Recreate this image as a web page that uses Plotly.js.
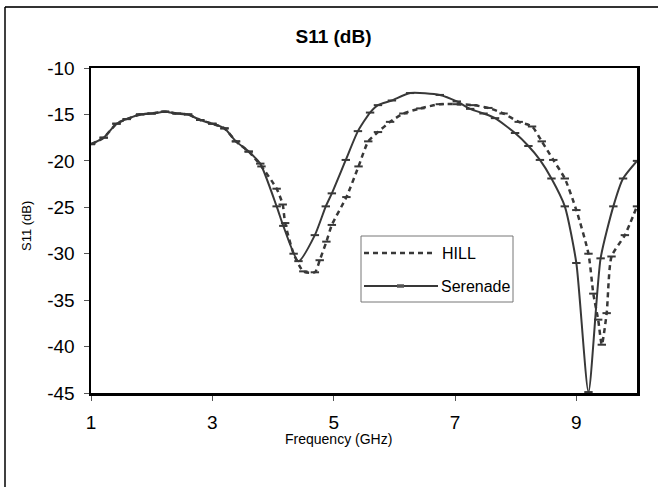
<!DOCTYPE html>
<html>
<head>
<meta charset="utf-8">
<script src="https://cdn.plot.ly/plotly-3.0.1.min.js"></script>
<style>html,body{margin:0;padding:0;background:#fff;}#chart{width:658px;height:487px;}</style>
</head>
<body>
<div id="chart"></div>
<script>
// ---- data ----
const serenadeFreq = [1.0,1.21,1.42,1.59,1.81,2.0,2.22,2.41,2.6,2.8,3.0,3.2,3.39,3.6,3.79,4.06,4.17,4.42,4.69,4.87,4.97,5.2,5.4,5.6,5.73,5.96,6.26,6.75,7.03,7.25,7.47,7.66,7.99,8.21,8.4,8.59,8.81,9.0,9.2,9.4,9.61,9.77,10.0];
const serenadeS11 = [-18.2,-17.5,-16.0,-15.5,-15.0,-14.9,-14.7,-14.9,-15.0,-15.6,-16.0,-16.5,-17.9,-19.0,-20.3,-24.9,-27.0,-30.8,-28.0,-24.9,-23.5,-19.9,-16.8,-14.8,-14.0,-13.5,-12.7,-12.9,-13.6,-14.4,-14.9,-15.4,-17.0,-18.4,-19.9,-21.9,-24.9,-31.0,-44.9,-30.5,-24.9,-21.9,-20.0];
const hillFreq = [1.0,1.21,1.42,1.59,1.81,2.0,2.22,2.41,2.6,2.8,3.0,3.2,3.39,3.6,3.81,4.06,4.16,4.2,4.34,4.5,4.69,4.77,4.88,4.97,5.21,5.41,5.57,5.73,5.93,6.15,6.43,6.75,7.03,7.3,7.55,7.8,8.05,8.27,8.43,8.62,8.81,9.0,9.2,9.28,9.36,9.42,9.5,9.58,9.8,10.0];
const hillS11 = [-18.2,-17.5,-16.0,-15.5,-15.0,-14.9,-14.7,-14.9,-15.0,-15.6,-16.0,-16.5,-17.9,-19.0,-20.6,-23.0,-24.7,-26.7,-30.0,-31.9,-32.0,-30.7,-28.7,-26.9,-23.9,-20.6,-17.9,-16.9,-15.8,-14.9,-14.35,-13.9,-13.9,-14.0,-14.3,-14.9,-15.8,-16.3,-17.9,-19.9,-21.9,-25.3,-30.0,-34.3,-37.1,-39.8,-36.4,-30.3,-28.0,-24.9];
const xTicks = [1,3,5,7,9];
const yTicks = [-10,-15,-20,-25,-30,-35,-40,-45];
const seriesNames = ['HILL','Serenade'];

// ---- geometry helpers (pixel -> paper) ----
const L=91, R=637, T=68, B=393;
const xp = p => (p-L)/(R-L);
const yp = p => (B-p)/(B-T);
const lineCol = '#383838';

const marker = {symbol:'line-ew', size:6, line:{width:2, color:lineCol}, color:lineCol};

const traces = [
  {x: hillFreq, y: hillS11, name: seriesNames[0], mode:'lines+markers',
   line:{color:lineCol, width:2.5, dash:'5px,4px', shape:'spline', smoothing:0.6}, marker: marker},
  {x: serenadeFreq, y: serenadeS11, name: seriesNames[1], mode:'lines+markers',
   line:{color:lineCol, width:2, shape:'spline', smoothing:0.6}, marker: marker}
];

const font = 'Arial, "Liberation Sans", sans-serif';
const layout = {
  width:658, height:487,
  margin:{l:L, r:658-R, t:T, b:487-B},
  paper_bgcolor:'#fff', plot_bgcolor:'#fff',
  showlegend:false,
  font:{family:font, color:'#000'},
  title:{text:'<b>S11 (dB)</b>', font:{size:19, family:font, color:'#000'},
         xref:'container', yref:'container', x:333.5/658, y:1-36/487, xanchor:'center', yanchor:'middle'},
  xaxis:{range:[1,10], tickvals:xTicks, ticktext:xTicks.map(String), showgrid:false, zeroline:false,
         showline:true, mirror:true, linecolor:'#000', linewidth:2.5,
         ticks:'outside', ticklen:5, tickwidth:1, tickcolor:'#555',
         tickfont:{size:19, family:font, color:'#000'}, ticklabelstandoff:6},
  yaxis:{range:[-45,-10], tickvals:yTicks, ticktext:yTicks.map(String), showgrid:false, zeroline:false,
         showline:true, mirror:true, linecolor:'#000', linewidth:2.5,
         ticks:'outside', ticklen:5, tickwidth:1, tickcolor:'#555',
         tickfont:{size:19, family:font, color:'#000'}, ticklabelstandoff:5},
  shapes:[
    // outer frame (top and left visible)
    {type:'line', xref:'paper', yref:'paper', x0:xp(5), x1:xp(658), y0:yp(7), y1:yp(7), line:{color:'#333', width:2}},
    {type:'line', xref:'paper', yref:'paper', x0:xp(5), x1:xp(5), y0:yp(7), y1:yp(490), line:{color:'#000', width:1.5}},
    // legend box
    {type:'rect', xref:'paper', yref:'paper', x0:xp(361), x1:xp(513), y0:yp(236), y1:yp(302), line:{color:'#777', width:1}, fillcolor:'#fff', layer:'above'},
    {type:'line', xref:'paper', yref:'paper', x0:xp(364), x1:xp(432), y0:yp(253), y1:yp(253), line:{color:lineCol, width:2.5, dash:'5px,4px'}, layer:'above'},
    {type:'line', xref:'paper', yref:'paper', x0:xp(364), x1:xp(438), y0:yp(286), y1:yp(286), line:{color:lineCol, width:2}, layer:'above'},
    {type:'line', xref:'paper', yref:'paper', x0:xp(397), x1:xp(404), y0:yp(286), y1:yp(286), line:{color:'#555', width:3.5}, layer:'above'}
  ],
  annotations:[
    {text:'Frequency (GHz)', xref:'paper', yref:'paper', x:xp(338), y:yp(439), showarrow:false,
     xanchor:'center', yanchor:'middle', font:{size:14, family:font, color:'#000'}},
    {text:'S11 (dB)', xref:'paper', yref:'paper', x:xp(26), y:yp(226), showarrow:false, textangle:-90,
     xanchor:'center', yanchor:'middle', font:{size:13, family:font, color:'#000'}},
    {text:seriesNames[0], xref:'paper', yref:'paper', x:xp(440), y:yp(253), showarrow:false,
     xanchor:'left', yanchor:'middle', font:{size:16, family:font, color:'#000'}},
    {text:seriesNames[1], xref:'paper', yref:'paper', x:xp(439), y:yp(286), showarrow:false,
     xanchor:'left', yanchor:'middle', font:{size:16, family:font, color:'#000'}}
  ]
};

Plotly.newPlot('chart', traces, layout, {displayModeBar:false, staticPlot:true});
</script>
</body>
</html>
